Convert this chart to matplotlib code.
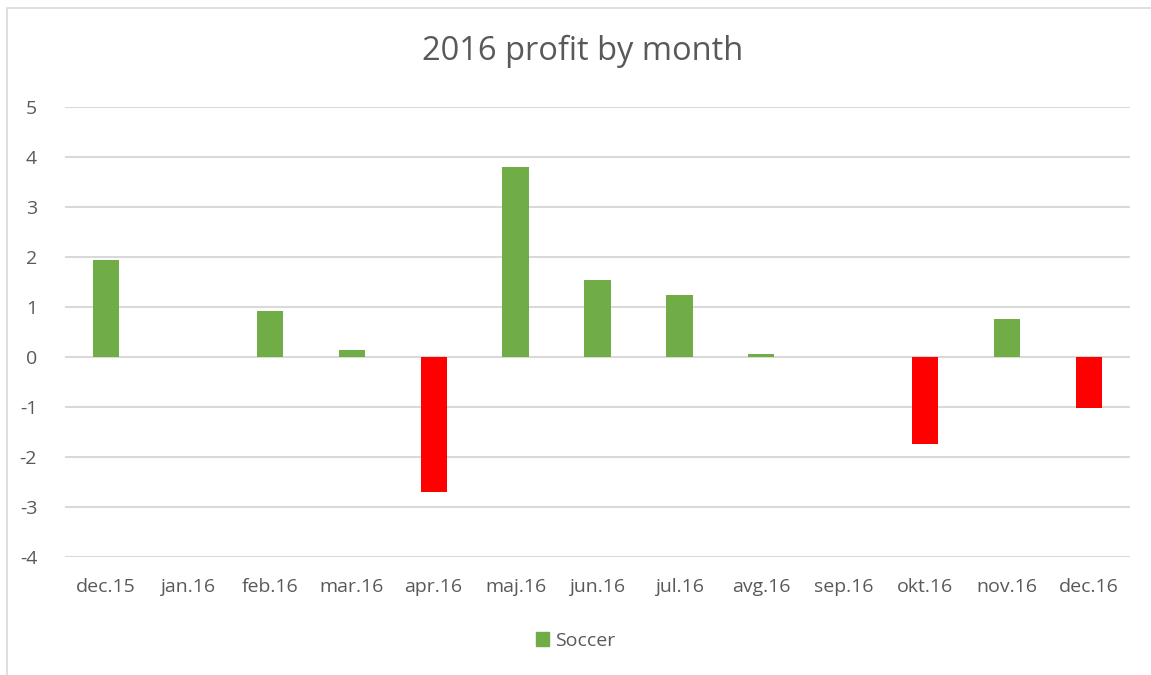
import matplotlib.pyplot as plt
from matplotlib.patches import Rectangle, Patch

months = ["dec.15", "jan.16", "feb.16", "mar.16", "apr.16", "maj.16", "jun.16",
          "jul.16", "avg.16", "sep.16", "okt.16", "nov.16", "dec.16"]
profit = [1.95, 0, 0.92, 0.15, -2.70, 3.81, 1.55, 1.24, 0.07, 0, -1.74, 0.76, -1.02]
yticks = [-4, -3, -2, -1, 0, 1, 2, 3, 4, 5]

GREEN = "#70ad47"
RED = "#ff0000"
TEXT = "#595959"
GRID = "#d9d9d9"

plt.rcParams['font.family'] = ['Open Sans', 'DejaVu Sans']

fig = plt.figure(figsize=(11.51, 6.75), dpi=100)
# chart frame (runs off the right and bottom edges)
fig.patches.append(Rectangle((7 / 1151, -0.05), 1.1, 1 - 8 / 675 + 0.05,
                             transform=fig.transFigure, fill=False,
                             edgecolor=GRID, linewidth=1.2))

ax = fig.add_axes([65 / 1151, 1 - 557 / 675, 1065 / 1151, 450 / 675])
colors = [GREEN if v >= 0 else RED for v in profit]
ax.bar(range(len(months)), profit, width=0.32, color=colors, zorder=3)

ax.set_xlim(-0.5, len(months) - 0.5)
ax.set_ylim(-4, 5)
ax.set_yticks(yticks)
ax.set_yticklabels([str(t) for t in yticks])
ax.set_xticks(range(len(months)))
ax.set_xticklabels(months)
ax.tick_params(axis='both', length=0, colors=TEXT, labelsize=14)
ax.tick_params(axis='y', pad=20)
ax.tick_params(axis='x', pad=15)
for s in ax.spines.values():
    s.set_visible(False)
ax.grid(axis='y', color=GRID, linewidth=1.5, zorder=0)
ax.set_axisbelow(True)

fig.text(583 / 1151, 1 - 51 / 675, "2016 profit by month", ha='center', va='center',
         fontsize=23.5, color=TEXT)

fig.legend(handles=[Patch(color=GREEN, label="Soccer")], loc='center',
           bbox_to_anchor=(0.5, 1 - 641 / 675), frameon=False, fontsize=14,
           labelcolor=TEXT, handlelength=0.7, handleheight=0.7, handletextpad=0.3)

fig.savefig("out.png", dpi=100)
